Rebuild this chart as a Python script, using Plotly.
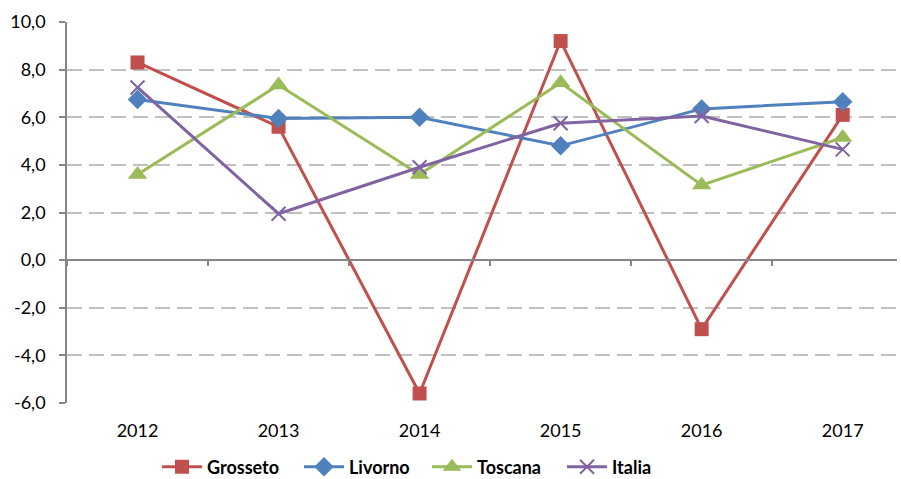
import plotly.graph_objects as go

years = ["2012", "2013", "2014", "2015", "2016", "2017"]
grosseto = [8.3, 5.6, -5.6, 9.2, -2.9, 6.1]
livorno = [6.75, 5.95, 6.0, 4.8, 6.35, 6.65]
toscana = [3.6, 7.35, 3.6, 7.45, 3.15, 5.15]
italia = [7.25, 1.95, 3.9, 5.75, 6.05, 4.65]

y_ticks = [-6, -4, -2, 0, 2, 4, 6, 8, 10]
y_labels = ["-6,0", "-4,0", "-2,0", "0,0", "2,0", "4,0", "6,0", "8,0", "10,0"]

series = [
    ("Grosseto", grosseto, "#C0504D", dict(symbol="square", size=14)),
    ("Livorno", livorno, "#4F81BD", dict(symbol="diamond", size=15)),
    ("Toscana", toscana, "#9BBB59", dict(symbol="triangle-up", size=17)),
    ("Italia", italia, "#8064A2", dict(symbol="x-thin-open", size=14, line=dict(width=2))),
]

font = "Lato, 'Liberation Sans', sans-serif"
legend_names = ["legend", "legend2", "legend3", "legend4"]
legend_left = [157, 299, 427, 562]   # left edge of each legend entry, px

fig = go.Figure()
for (name, vals, color, marker), lg in zip(series, legend_names):
    m = dict(color=color, **marker)
    if "line" in m:
        m["line"]["color"] = color
    fig.add_trace(go.Scatter(
        x=years, y=vals, name=name, mode="lines+markers",
        line=dict(color=color, width=3), marker=m, legend=lg,
    ))

# empty trace that carries the category axis drawn along y = 0
fig.add_trace(go.Scatter(x=years, y=[None] * len(years), xaxis="x2",
                         showlegend=False, hoverinfo="skip", mode="lines"))

y_min, y_max = -6, 10
x_range = [-0.5, 5.385]
W, H = 901, 479

legend_layout = {}
for lg, left in zip(legend_names, legend_left):
    legend_layout[lg] = dict(
        orientation="h", xref="container", x=left / W, xanchor="left",
        yref="container", y=0.025, yanchor="middle",
        font=dict(size=18, family=font, weight="bold"),
        bgcolor="rgba(0,0,0,0)", itemwidth=40,
    )

fig.update_layout(
    width=W, height=H,
    margin=dict(l=67, r=4, t=22, b=76),
    paper_bgcolor="white", plot_bgcolor="white",
    font=dict(family=font, size=18, color="black"),
    xaxis=dict(
        type="category", range=x_range, showline=False, showgrid=False,
        zeroline=False, ticks="", tickfont=dict(size=18),
        ticklabelstandoff=15,
    ),
    xaxis2=dict(
        type="category", overlaying="x", anchor="free",
        position=(0 - y_min) / (y_max - y_min), range=x_range,
        showline=True, linecolor="#868686", linewidth=1.5,
        ticks="outside", tickson="boundaries", ticklen=5,
        tickcolor="#868686", tickwidth=1.5,
        showticklabels=False, showgrid=False, zeroline=False,
    ),
    yaxis=dict(
        range=[y_min, y_max], tickvals=y_ticks, ticktext=y_labels,
        showline=True, linecolor="#868686", linewidth=1.5,
        ticks="outside", ticklen=6, tickcolor="#868686", tickwidth=1.5,
        showgrid=True, gridcolor="#C0C0C0", gridwidth=1.5,
        griddash="15px,7px", zeroline=False, tickfont=dict(size=18),
        ticklabelstandoff=10,
    ),
    showlegend=True,
    **legend_layout,
)

fig.write_html("out.html")
